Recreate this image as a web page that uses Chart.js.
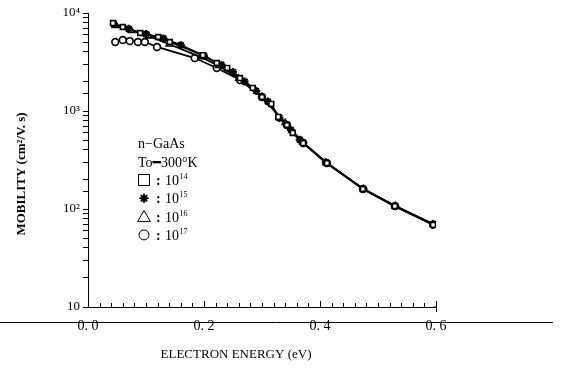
<!DOCTYPE html>
<html>
<head>
<meta charset="utf-8">
<script src="https://cdn.jsdelivr.net/npm/chart.js@4"></script>
<style>
  html, body { margin: 0; padding: 0; background: #fff; }
  #wrap { width: 563px; height: 369px; }
</style>
</head>
<body>
<div id="wrap"><canvas id="mobChart" width="563" height="369"></canvas></div>
<script>
// ---- data (electron energy in eV, mobility in cm2/V.s) ----
const energy14 = [0.043, 0.060, 0.090, 0.121, 0.141, 0.198, 0.222, 0.240, 0.262, 0.284, 0.300, 0.316, 0.328, 0.343, 0.353, 0.371, 0.412, 0.474, 0.529, 0.595];
const mob14    = [7900, 7200, 6250, 5690, 5060, 3720, 3090, 2750, 2170, 1720, 1390, 1180, 869, 720, 597, 471, 294, 160, 107, 69];

const energy15 = [0.045, 0.070, 0.100, 0.130, 0.160, 0.200, 0.230, 0.250, 0.270, 0.290, 0.310, 0.330, 0.350, 0.365, 0.410, 0.475, 0.530, 0.595];
const mob15    = [7700, 6900, 6100, 5500, 4700, 3650, 2950, 2500, 2000, 1600, 1250, 850, 640, 510, 300, 160, 107, 70];

const energy16 = [0.047, 0.075, 0.105, 0.140, 0.195, 0.225, 0.260, 0.300, 0.340, 0.370, 0.410, 0.475, 0.530, 0.595];
const mob16    = [7400, 6600, 5800, 4800, 3550, 2900, 2150, 1400, 760, 480, 296, 160, 107, 70];

const energy17 = [0.047, 0.060, 0.072, 0.086, 0.098, 0.119, 0.184, 0.222, 0.262, 0.300, 0.343, 0.371, 0.412, 0.474, 0.529, 0.595];
const mob17    = [5060, 5300, 5170, 5060, 5060, 4500, 3470, 2750, 2070, 1390, 720, 471, 294, 160, 107, 69];

const seriesNames = ["10^14", "10^15", "10^16", "10^17"];
const yTickLabels = { 10: "10", 100: "10²", 1000: "10³", 10000: "10⁴" };
const xTickLabels = { 0: "0. 0", 0.2: "0. 2", 0.4: "0. 4", 0.6: "0. 6" };

const SERIF = "'Liberation Serif', 'DejaVu Serif', serif";

function toPoints(xs, ys) {
    return xs.map((x, i) => ({ x, y: ys[i] }));
}

function makeSet(label, xs, ys, style, fill) {
    return {
        label,
        data: toPoints(xs, ys),
        borderColor: "#000",
        borderWidth: 1.8,
        pointStyle: style,
        pointRadius: style === "star" ? 4 : 3.4,
        pointBackgroundColor: fill,
        pointBorderColor: "#000",
        pointBorderWidth: style === "star" ? 2.2 : 1.6,
        showLine: true,
        tension: 0
    };
}

// inward x ticks, extra texts, stray scan line
const decorPlugin = {
    id: "decor",
    afterDraw(chart) {
        const ctx = chart.ctx;
        const xs = chart.scales.x;
        const bottom = chart.chartArea.bottom;
        ctx.save();
        ctx.strokeStyle = "#000";
        ctx.lineWidth = 1;

        // x ticks pointing up into the plot
        for (let k = 0; k <= 30; k++) {
            const px = Math.round(xs.getPixelForValue(k * 0.02)) + 0.5;
            const len = (k % 10 === 0) ? 6 : 4;
            ctx.beginPath();
            ctx.moveTo(px, bottom);
            ctx.lineTo(px, bottom - len);
            ctx.stroke();
        }
        // small hook at the end of the x axis
        const xe = Math.round(xs.getPixelForValue(0.6)) + 0.5;
        ctx.beginPath();
        ctx.moveTo(xe - 3, bottom);
        ctx.lineTo(xe, bottom);
        ctx.lineTo(xe, bottom + 5);
        ctx.stroke();

        // long horizontal line crossing the tick labels
        ctx.beginPath();
        ctx.moveTo(0, 322.5);
        ctx.lineTo(553, 322.5);
        ctx.stroke();

        // axis titles
        ctx.fillStyle = "#000";
        ctx.font = "13px " + SERIF;
        ctx.textAlign = "center";
        ctx.textBaseline = "middle";
        ctx.fillText("ELECTRON ENERGY (eV)", 236, 355);

        ctx.save();
        ctx.translate(22, 174);
        ctx.rotate(-Math.PI / 2);
        ctx.font = "bold 13px " + SERIF;
        ctx.fillText("MOBILITY (cm²/V. s)", 0, 0);
        ctx.restore();

        // legend block inside the plot
        ctx.textAlign = "left";
        ctx.textBaseline = "alphabetic";
        ctx.font = "14px " + SERIF;
        const lx = 138;
        ctx.fillText("n\u2212GaAs", lx, 148);
        ctx.fillText("To\u2501300°K", lx, 167);

        const styles = ["rect", "star", "triangle", "circle"];
        styles.forEach((st, i) => {
            const cy = 180 + i * 18.3;
            const cx = lx + 6;
            ctx.lineWidth = 1;
            ctx.beginPath();
            if (st === "rect") {
                ctx.rect(cx - 5.5, cy - 5.5, 11, 11);
                ctx.stroke();
            } else if (st === "star") {
                ctx.lineWidth = 2;
                for (let a = 0; a < 4; a++) {
                    const ang = a * Math.PI / 4;
                    ctx.moveTo(cx - 4.5 * Math.cos(ang), cy - 4.5 * Math.sin(ang));
                    ctx.lineTo(cx + 4.5 * Math.cos(ang), cy + 4.5 * Math.sin(ang));
                }
                ctx.stroke();
            } else if (st === "triangle") {
                ctx.moveTo(cx, cy - 6);
                ctx.lineTo(cx + 6.5, cy + 5);
                ctx.lineTo(cx - 6.5, cy + 5);
                ctx.closePath();
                ctx.stroke();
            } else {
                ctx.arc(cx, cy, 5, 0, Math.PI * 2);
                ctx.stroke();
            }
            const parts = seriesNames[i].split("^");
            ctx.font = "bold 14px " + SERIF;
            ctx.fillText(":", lx + 18, cy + 5);
            ctx.font = "14px " + SERIF;
            ctx.fillText(parts[0], lx + 27, cy + 5);
            const w = ctx.measureText(parts[0]).width;
            ctx.font = "8px " + SERIF;
            ctx.fillText(parts[1], lx + 27 + w + 0.5, cy - 1);
        });
        ctx.restore();
    }
};

const ctx = document.getElementById("mobChart").getContext("2d");

new Chart(ctx, {
    type: "scatter",
    data: {
        datasets: [
            makeSet("10^14", energy14, mob14, "rect", "#fff"),
            makeSet("10^15", energy15, mob15, "star", "#000"),
            makeSet("10^16", energy16, mob16, "triangle", "#fff"),
            makeSet("10^17", energy17, mob17, "circle", "#fff")
        ]
    },
    options: {
        responsive: false,
        animation: false,
        layout: { padding: { left: 0, top: 13, right: 127, bottom: 0 } },
        plugins: {
            legend: { display: false },
            tooltip: { enabled: false }
        },
        scales: {
            x: {
                type: "linear",
                min: 0,
                max: 0.6,
                afterFit: s => { s.height = 62; },
                border: { display: true, color: "#000", width: 1 },
                grid: { display: false },
                ticks: {
                    stepSize: 0.2,
                    color: "#000",
                    padding: 3,
                    font: { family: SERIF, size: 14 },
                    callback: v => xTickLabels[Math.round(v * 10) / 10] ?? ""
                }
            },
            y: {
                type: "logarithmic",
                min: 10,
                max: 10000,
                afterFit: s => { s.width = 88; },
                border: { display: true, color: "#000", width: 1 },
                grid: {
                    drawOnChartArea: false,
                    drawTicks: true,
                    tickLength: 5,
                    color: "#000"
                },
                ticks: {
                    autoSkip: false,
                    color: "#000",
                    padding: 3,
                    font: { family: SERIF, size: 13 },
                    callback: v => yTickLabels[v] ?? ""
                }
            }
        }
    },
    plugins: [decorPlugin]
});
</script>
</body>
</html>
